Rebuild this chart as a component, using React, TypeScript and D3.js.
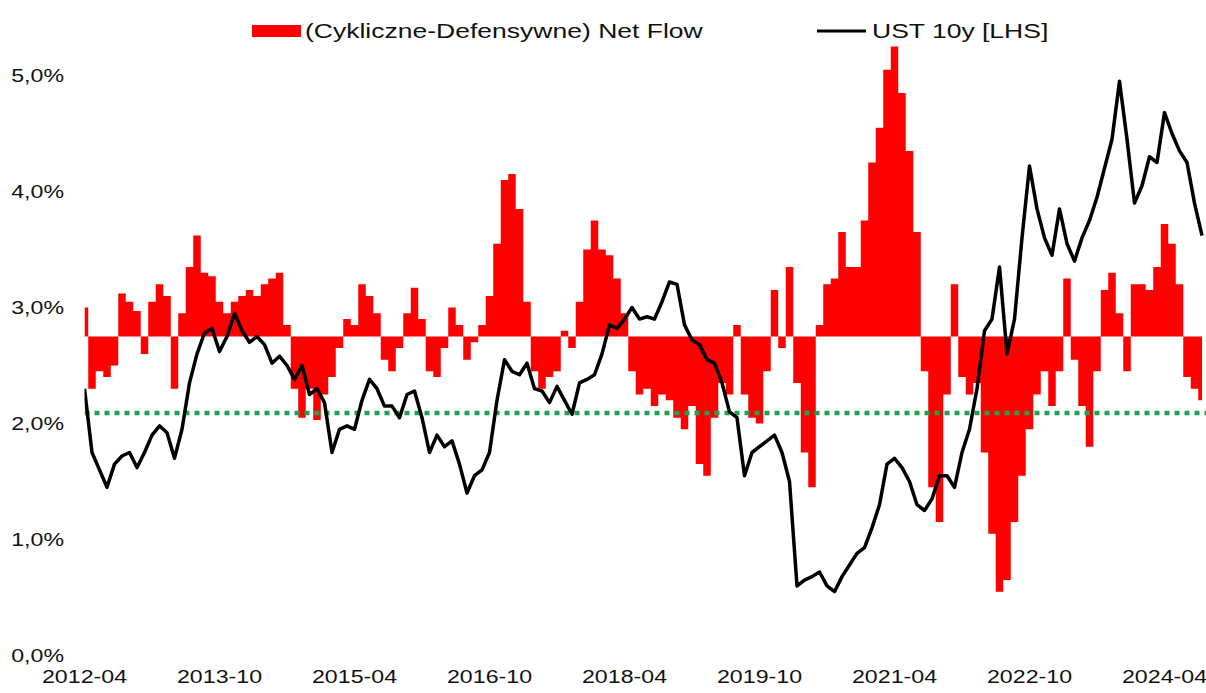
import * as d3 from "d3";

const WIDTH = 1206;
const HEIGHT = 693;
const PLOT = { left: 84.5, right: 1206, top: 75.5, bottom: 655.5 };

// month index 0 = 2012-04, 7.5px per month
const MONTH_PX = 7.5;
const TICK_LABELS = ["2012-04", "2013-10", "2015-04", "2016-10", "2018-04", "2019-10", "2021-04", "2022-10", "2024-04"];
const Y_TICKS = [0, 1, 2, 3, 4, 5];

// UST 10y yield, monthly, 2012-04 .. 2024-09 (%)
const ust10y = [
  2.3, 1.75, 1.6, 1.45, 1.65, 1.72, 1.75, 1.62, 1.75,
  1.9, 1.98, 1.92, 1.7, 1.95, 2.35, 2.6, 2.78, 2.82, 2.62, 2.75, 2.95,
  2.8, 2.7, 2.75, 2.68, 2.52, 2.58, 2.5, 2.38, 2.5, 2.25, 2.3, 2.18,
  1.75, 1.95, 1.98, 1.95, 2.2, 2.38, 2.3, 2.15, 2.15, 2.05, 2.25, 2.28,
  2.05, 1.75, 1.9, 1.8, 1.85, 1.65, 1.4, 1.55, 1.6, 1.75, 2.2, 2.55,
  2.45, 2.42, 2.52, 2.3, 2.28, 2.18, 2.32, 2.2, 2.08, 2.35, 2.38, 2.42,
  2.6, 2.85, 2.82, 2.9, 3.0, 2.9, 2.92, 2.9, 3.05, 3.22, 3.2, 2.85,
  2.72, 2.68, 2.55, 2.52, 2.35, 2.1, 2.05, 1.55, 1.75, 1.8, 1.85, 1.9,
  1.75, 1.5, 0.6, 0.65, 0.68, 0.72, 0.6, 0.55, 0.68, 0.78, 0.88, 0.93,
  1.1, 1.3, 1.65, 1.7, 1.62, 1.5, 1.3, 1.25, 1.35, 1.55, 1.55, 1.45,
  1.75, 1.95, 2.3, 2.8, 2.9, 3.35, 2.6, 2.9, 3.6, 4.22, 3.85, 3.6,
  3.45, 3.85, 3.55, 3.4, 3.6, 3.75, 3.95, 4.2, 4.45, 4.95, 4.45, 3.9,
  4.05, 4.3, 4.25, 4.68, 4.5, 4.35, 4.25, 3.9, 3.62,
];

// (Cykliczne - Defensywne) net flow, monthly, secondary (hidden) axis units
const netFlow = [
  0.25, -0.45, -0.3, -0.35, -0.25, 0.37, 0.3, 0.22, -0.15,
  0.3, 0.45, 0.35, -0.45, 0.2, 0.6, 0.87, 0.55, 0.52, 0.3, 0.2, 0.3,
  0.35, 0.4, 0.35, 0.45, 0.5, 0.55, 0.1, -0.45, -0.7, -0.45, -0.72, -0.5,
  -0.35, -0.1, 0.15, 0.1, 0.45, 0.35, 0.2, -0.2, -0.3, -0.1, 0.2, 0.42,
  0.15, -0.3, -0.35, -0.1, 0.25, 0.1, -0.2, -0.05, 0.1, 0.35, 0.8, 1.35,
  1.4, 1.1, 0.3, -0.3, -0.45, -0.35, -0.3, 0.05, -0.1, 0.3, 0.75, 1.0,
  0.75, 0.7, 0.5, 0.2, -0.3, -0.5, -0.45, -0.6, -0.5, -0.55, -0.7, -0.8,
  -0.6, -1.1, -1.2, -0.7, -0.4, -0.5, 0.1, -0.5, -0.7, -0.75, -0.3, 0.4,
  -0.1, 0.6, -0.4, -1.0, -1.3, 0.1, 0.45, 0.5, 0.9, 0.6, 0.6, 1.0,
  1.5, 1.8, 2.3, 2.5, 2.1, 1.6, 0.9, -0.3, -1.3, -1.6, -0.5, 0.45,
  -0.35, -0.5, -0.4, -1.0, -1.7, -2.2, -2.1, -1.6, -1.2, -0.8, -0.5, -0.3,
  -0.6, -0.3, 0.5, -0.2, -0.6, -0.95, -0.3, 0.4, 0.55, 0.2, -0.3, 0.45,
  0.45, 0.4, 0.6, 0.97, 0.8, 0.45, -0.35, -0.45, -0.55,
];

const UST_AVG = 2.09;

const FONT = "'Liberation Sans', Arial, sans-serif";
const SX = 1.22; // text in the reference is stretched sideways
const TEXT = "#111";

export default function App() {
  const nMonths = ust10y.length;
  const xm = d3
    .scaleLinear()
    .domain([0, nMonths])
    .range([PLOT.left, PLOT.left + nMonths * MONTH_PX]);

  const yScale = d3.scaleLinear().domain([0, 5]).range([PLOT.bottom, PLOT.top]);
  // hidden right axis for the flow, its zero sits at ~2.75% of the left axis
  const yFlow = d3.scaleLinear().domain([-2.75, 2.25]).range([PLOT.bottom, PLOT.top]);

  const flowArea = d3
    .area<number>()
    .x((_, i) => xm(i))
    .y0(yFlow(0))
    .y1((d) => yFlow(d))
    .curve(d3.curveStep);

  const ustLine = d3
    .line<number>()
    .x((_, i) => xm(i))
    .y((d) => yScale(d));

  const tickMonths = TICK_LABELS.map((_, i) => i * 18);

  return (
    <svg
      width={WIDTH}
      height={HEIGHT}
      style={{ position: "absolute", left: 0, top: 0, background: "#fff" }}
      fontFamily={FONT}
    >
      <defs>
        <clipPath id="plot">
          <rect x={PLOT.left} y={0} width={PLOT.right - PLOT.left} height={HEIGHT} />
        </clipPath>
      </defs>

      <g clipPath="url(#plot)">
        <path d={flowArea(netFlow) || ""} fill="#ff0000" />
        <line
          x1={PLOT.left}
          x2={PLOT.right}
          y1={yScale(UST_AVG)}
          y2={yScale(UST_AVG)}
          stroke="#1fa352"
          strokeWidth={4.5}
          strokeDasharray="5 5"
        />
        <path d={ustLine(ust10y) || ""} fill="none" stroke="#000" strokeWidth={3.5} strokeLinejoin="round" />
      </g>

      {/* y axis labels */}
      {Y_TICKS.map((t) => (
        <text
          key={t}
          transform={`translate(64,${yScale(t)}) scale(${SX},1)`}
          textAnchor="end"
          dominantBaseline="central"
          fontSize={19}
          fill={TEXT}
        >
          {t.toFixed(1).replace(".", ",") + "%"}
        </text>
      ))}

      {/* x axis labels */}
      {TICK_LABELS.map((lab, i) => (
        <text
          key={lab}
          transform={`translate(${xm(tickMonths[i])},${676}) scale(${SX},1)`}
          textAnchor="middle"
          dominantBaseline="central"
          fontSize={19}
          fill={TEXT}
        >
          {lab}
        </text>
      ))}

      {/* legend */}
      <rect x={252} y={25} width={49} height={12} fill="#ff0000" />
      <text
        transform={`translate(305,31) scale(1.36,1)`}
        dominantBaseline="central"
        fontSize={19.5}
        fill={TEXT}
      >
        (Cykliczne-Defensywne) Net Flow
      </text>
      <line x1={817} x2={866} y1={31} y2={31} stroke="#000" strokeWidth={3} />
      <text
        transform={`translate(872,31) scale(1.36,1)`}
        dominantBaseline="central"
        fontSize={19.5}
        fill={TEXT}
      >
        UST 10y [LHS]
      </text>
    </svg>
  );
}
